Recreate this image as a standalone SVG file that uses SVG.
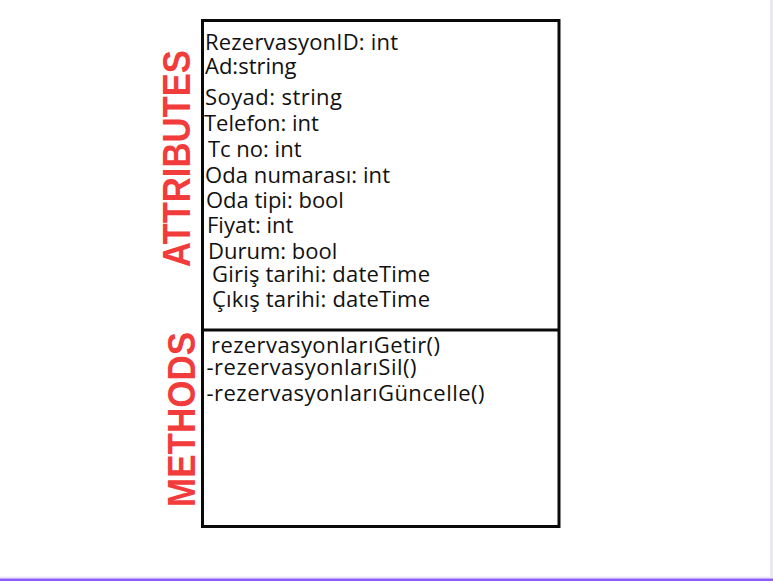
<svg xmlns="http://www.w3.org/2000/svg" width="773" height="581" viewBox="0 0 773 581">
<style>
.t{font-family:"Open Sans","Noto Sans","Liberation Sans",sans-serif;font-size:22px;fill:#111;}
.lbl{font-family:"Liberation Sans",Arial,sans-serif;font-weight:bold;font-size:39px;fill:#f23b3b;}
.box{fill:#fff;stroke:#0a0a0a;stroke-width:3;}
</style>
<rect x="0" y="0" width="773" height="581" fill="#fff"/>
<rect x="770" y="0" width="3" height="577" fill="#e9e9ee"/>
<rect x="0" y="576.5" width="773" height="2" fill="#ece8fb"/>
<rect x="0" y="578.5" width="773" height="2.5" fill="#8b5cf6"/>
<g id="class-node">
<rect class="box" x="202.5" y="20.5" width="356.5" height="506"/>
<line x1="202.5" y1="330" x2="559" y2="330" stroke="#0a0a0a" stroke-width="3"/>
</g>
<g id="attributes-label">
<text class="lbl" transform="translate(190,158.5) rotate(-90)" text-anchor="middle" textLength="217" lengthAdjust="spacingAndGlyphs">ATTRIBUTES</text>
</g>
<g id="methods-label">
<text class="lbl" transform="translate(195,419.5) rotate(-90)" text-anchor="middle" textLength="175" lengthAdjust="spacingAndGlyphs">METHODS</text>
</g>
<g id="attributes">
<text class="t" x="205" y="50" textLength="193">RezervasyonID: int</text>
<text class="t" x="205" y="74">Ad:string</text>
<text class="t" x="205" y="105" textLength="137">Soyad: string</text>
<text class="t" x="204" y="131">Telefon: int</text>
<text class="t" x="208" y="157">Tc no: int</text>
<text class="t" x="205" y="183" textLength="185">Oda numarası: int</text>
<text class="t" x="206" y="208">Oda tipi: bool</text>
<text class="t" x="207" y="233">Fiyat: int</text>
<text class="t" x="208" y="259">Durum: bool</text>
<text class="t" x="212" y="282" textLength="218">Giriş tarihi: dateTime</text>
<text class="t" x="212" y="307" textLength="218">Çıkış tarihi: dateTime</text>
</g>
<g id="methods">
<text class="t" x="211" y="353" textLength="229">rezervasyonlarıGetir()</text>
<text class="t" x="206.5" y="375" textLength="210">-rezervasyonlarıSil()</text>
<text class="t" x="206.5" y="401" textLength="278">-rezervasyonlarıGüncelle()</text>
</g>
</svg>
